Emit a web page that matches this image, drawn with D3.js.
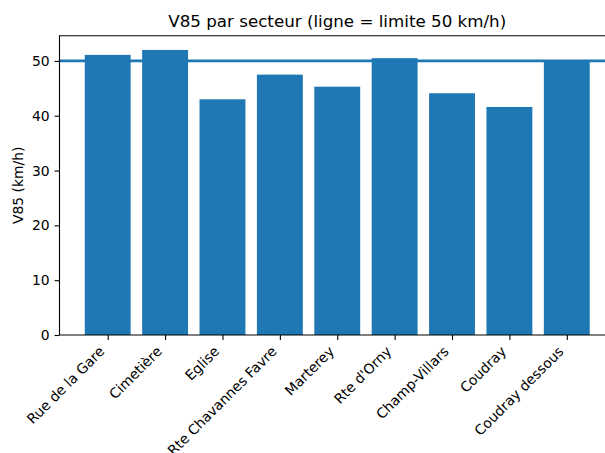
<!DOCTYPE html>
<html>
<head>
<meta charset="utf-8">
<script src="https://cdn.jsdelivr.net/npm/d3@7"></script>
<style>
  body { margin: 0; background: #fff; }
  svg { display: block; font-family: "DejaVu Sans", sans-serif; }
</style>
</head>
<body>
<div id="viz"></div>
<script>
// secteurs et V85
const secteurs = ["Rue de la Gare", "Cimetière", "Eglise", "Rte Chavannes Favre",
  "Marterey", "Rte d'Orny", "Champ-Villars", "Coudray", "Coudray dessous"];
const v85 = [51.1, 52.0, 43.0, 47.5, 45.3, 50.5, 44.1, 41.6, 50.1];
const limite = 50;
const yTicks = [0, 10, 20, 30, 40, 50];

const width = 605, height = 453;
const blue = "#1f77b4";

// axes box (the right edge runs past the window, like the cropped original)
const axLeft = 59.5, axRight = 615, axTop = 35.7, axBottom = 335;

const svg = d3.select("#viz").append("svg")
  .attr("width", width)
  .attr("height", height);

const x = d3.scaleLinear()
  .domain([-0.84, secteurs.length - 1 + 0.84])
  .range([axLeft, axRight]);

const y = d3.scaleLinear()
  .domain([0, d3.max(v85) * 1.05])
  .range([axBottom, axTop]);

const barW = x(0.4) - x(-0.4);

// bars
svg.append("g")
  .selectAll("rect")
  .data(v85)
  .join("rect")
  .attr("x", (d, i) => x(i) - barW / 2)
  .attr("width", barW)
  .attr("y", d => y(d))
  .attr("height", d => y(0) - y(d))
  .attr("fill", blue);

// limit line
svg.append("line")
  .attr("x1", axLeft)
  .attr("x2", axRight)
  .attr("y1", y(limite))
  .attr("y2", y(limite))
  .attr("stroke", blue)
  .attr("stroke-width", 2.8);

// y axis
const yAxis = svg.append("g")
  .attr("transform", `translate(${axLeft},0)`)
  .call(d3.axisLeft(y).tickValues(yTicks).tickSize(4.9).tickPadding(4.9));
yAxis.select(".domain").remove();
yAxis.selectAll("text")
  .attr("font-size", "13.9px")
  .attr("font-family", "DejaVu Sans")
  .attr("fill", "#000");
yAxis.selectAll("line").attr("stroke", "#000").attr("stroke-width", 1.1);

// x axis
const xAxis = svg.append("g")
  .attr("transform", `translate(0,${axBottom})`)
  .call(d3.axisBottom(x).tickValues(d3.range(secteurs.length)).tickSize(4.9).tickFormat(""));
xAxis.select(".domain").remove();
xAxis.selectAll("line").attr("stroke", "#000").attr("stroke-width", 1.1);

// rotated tick labels, right-aligned on the tick like matplotlib rotation=45 ha=right
svg.append("g")
  .selectAll("text")
  .data(secteurs)
  .join("text")
  .attr("transform", (d, i) => `translate(${x(i) - 2.3},${axBottom + 9.8 + 7.5}) rotate(-45)`)
  .attr("text-anchor", "end")
  .attr("font-size", "13.9px")
  .attr("fill", "#000")
  .text(d => d);

// spines
svg.append("path")
  .attr("d", `M${axLeft},${axBottom}V${axTop}H${axRight}M${axLeft},${axBottom}H${axRight}`)
  .attr("fill", "none")
  .attr("stroke", "#000")
  .attr("stroke-width", 1.1);

// title
svg.append("text")
  .attr("x", (axLeft + axRight) / 2)
  .attr("y", axTop - 8.3)
  .attr("text-anchor", "middle")
  .attr("font-size", "16.7px")
  .text("V85 par secteur (ligne = limite 50 km/h)");

// y label
svg.append("text")
  .attr("transform", `translate(23,${(axTop + axBottom) / 2}) rotate(-90)`)
  .attr("text-anchor", "middle")
  .attr("font-size", "13.9px")
  .text("V85 (km/h)");
</script>
</body>
</html>
